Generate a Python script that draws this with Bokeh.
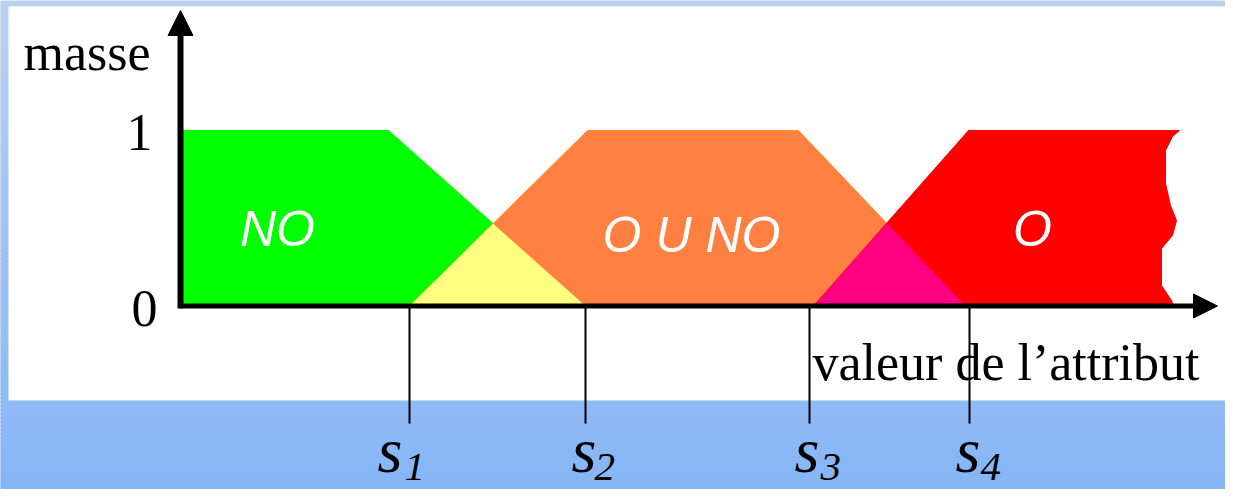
import numpy as np
from bokeh.plotting import figure
from bokeh.models import Range1d, Arrow, NormalHead
from bokeh.core.properties import value
from bokeh.embed import file_html
from bokeh.resources import INLINE

# ---------------- data ----------------
# attribute axis (arbitrary units, origin = vertical axis)
green_x = [0, 208, 405]          # "NO" mass: plateau then descent
green_m = [1, 1, 0]
orange_x = [229, 407, 618, 785]   # "O U NO" mass: trapezoid
orange_m = [0, 1, 1, 0]
red_x = [633, 788]                # "O" mass: rising edge
red_m = [0, 1]
red_edge_x = [999, 992, 985, 985, 990, 996, 992, 981, 981, 991, 993]   # torn right edge
red_edge_m = [1.0, 0.966, 0.886, 0.698, 0.573, 0.487, 0.402, 0.328, 0.117, 0.031, 0.0]

thresholds = [229, 405, 629, 789]
threshold_names = ["s", "s", "s", "s"]
threshold_subs = ["1", "2", "3", "4"]

region_labels = ["NO", "O U NO", "O"]
region_pos = [97, 511, 852]

y_tick_labels = ["1", "0"]

x_title = "valeur de l\u2019attribut"
y_title = "masse"

# ---------------- figure (1 unit x = 1 px, 175.5 px per unit of mass) ----------------
W, H = 1225, 489
X0 = -180.0
Y_TOP = 305.5 / 175.5
Y_BOT = (305.5 - H) / 175.5
p = figure(width=W, height=H, output_backend="svg", toolbar_location=None,
           x_range=Range1d(X0, X0 + W), y_range=Range1d(Y_BOT, Y_TOP),
           min_border=0, background_fill_color="white", border_fill_color="white")
p.xaxis.visible = False
p.yaxis.visible = False
p.xgrid.visible = False
p.ygrid.visible = False
p.outline_line_color = None

def my(px):  # layout helper: pixel row -> mass coordinate
    return (305.5 - px) / 175.5

def base(px, size):  # compensate the renderer's baseline shift
    return my(px - 0.34 * size)

# blue gradient background
n = 125
c0 = np.array([187, 208, 238])
c1 = np.array([133, 181, 247])
edges = np.linspace(0, 497, n + 1)
cols = []
for i in range(n):
    t = (edges[i] + edges[i + 1]) / 2 / 497
    c = (c0 * (1 - t) + c1 * t).round().astype(int)
    cols.append("#%02x%02x%02x" % tuple(c))
p.quad(left=[X0 - 10] * n, right=[X0 + W + 10] * n,
       top=[my(e - 1) for e in edges[:-1]], bottom=[my(e + 1) for e in edges[1:]],
       fill_color=cols, line_color=None)
# white panel
p.quad(left=[X0 + 8], right=[X0 + W + 20], top=[my(6)], bottom=[my(400)],
       fill_color="white", line_color=None)

# membership fills
gx = [green_x[0]] + green_x
gy = [0] + green_m
p.patch(gx, gy, fill_color="#00FF00", line_color="#00FF00", line_width=1)
p.patch(orange_x, orange_m, fill_color="#FF8040", line_color="#FF9020", line_width=1)
rx = red_x + red_edge_x
ry = red_m + red_edge_m
p.patch(rx, ry, fill_color="#FF0000", line_color="#FF0000", line_width=1)

grid = np.linspace(0, 1000, 4001)
g_i = np.interp(grid, green_x, green_m, left=1, right=0)
o_i = np.interp(grid, orange_x, orange_m, left=0, right=0)
r_i = np.interp(grid, red_x, red_m, left=0, right=1)
yel = np.minimum(g_i, o_i)
pink = np.minimum(o_i, r_i)
my_ = yel > 0
mp_ = pink > 0
p.varea(x=grid[my_], y1=np.zeros(my_.sum()), y2=yel[my_], fill_color="#FFFF80")
p.varea(x=grid[mp_], y1=np.zeros(mp_.sum()), y2=pink[mp_], fill_color="#FF0080")

# region labels
p.text(x=region_pos, y=[base(245, 50), base(251, 50), base(245, 50)], text=region_labels,
       text_color="white", text_font=value("Liberation Sans"), text_font_style="italic",
       text_font_size="50px", text_align="center", text_baseline="alphabetic")

# axis titles and tick labels
p.text(x=[-157], y=[base(70, 52)], text=[y_title], text_font=value("Liberation Serif"),
       text_font_size="52px", text_color="black", text_baseline="alphabetic")
p.text(x=[-28, -23], y=[base(150, 52), base(326, 52)], text=y_tick_labels,
       text_font=value("Liberation Serif"),
       text_font_size="52px", text_color="black", text_align="right", text_baseline="alphabetic")
p.text(x=[632], y=[base(380, 52)], text=[x_title], text_font=value("Liberation Serif"),
       text_font_size="52px", text_color="black", text_baseline="alphabetic")

# axes with arrows
p.add_layout(Arrow(x_start=0, y_start=my(308), x_end=0, y_end=my(10), line_width=6, line_color="black",
                   end=NormalHead(size=25, fill_color="black", line_color="black", line_width=1)))
p.add_layout(Arrow(x_start=0, y_start=0, x_end=1037, y_end=0, line_width=5, line_color="black",
                   end=NormalHead(size=24, fill_color="black", line_color="black", line_width=1)))

# threshold drop lines
p.segment(x0=thresholds, y0=[0] * 4, x1=thresholds, y1=[my(423)] * 4,
          line_color="black", line_width=2)

# threshold labels
s_off = [-32, -14, -15, -14]
sub_off = [-5, 9, 11, 11]
p.text(x=[t + o for t, o in zip(thresholds, s_off)], y=[base(472, 64)] * 4, text=threshold_names,
       text_font=value("Liberation Serif"), text_font_style="italic", text_font_size="64px",
       text_color="black", text_baseline="alphabetic")
p.text(x=[t + o for t, o in zip(thresholds, sub_off)], y=[base(480, 41)] * 4, text=threshold_subs,
       text_font=value("Liberation Serif"), text_font_style="italic", text_font_size="41px",
       text_color="black", text_baseline="alphabetic")

open("out.html", "w").write(file_html(p, INLINE))
